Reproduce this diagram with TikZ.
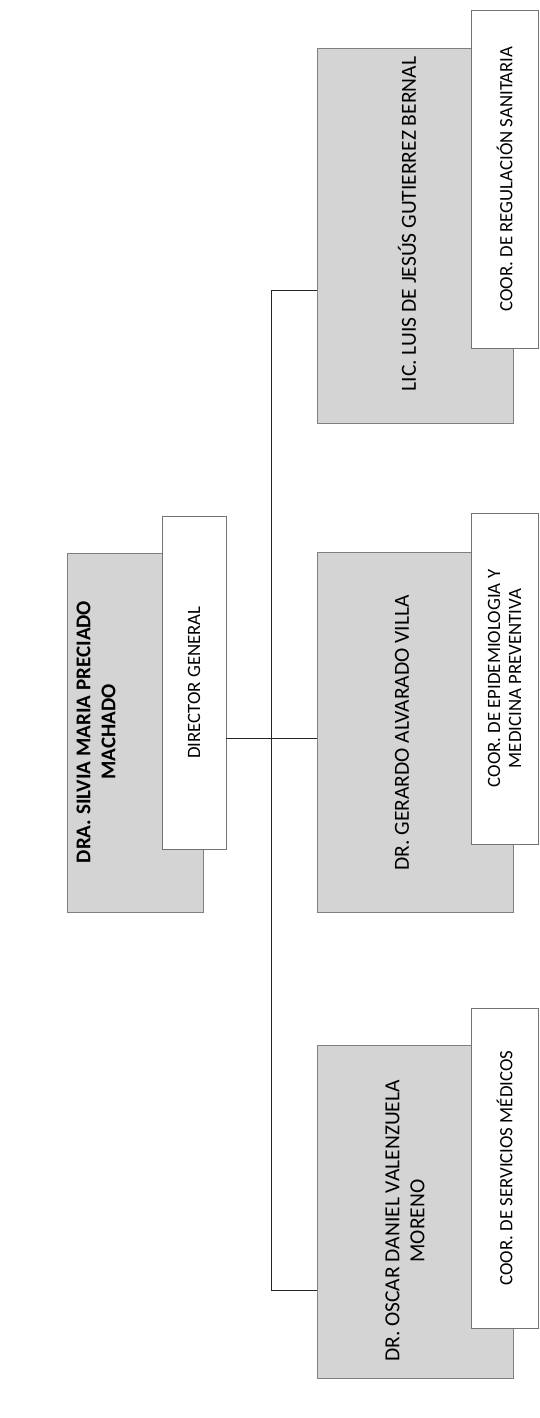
\documentclass[tikz,border=0pt]{standalone}
\usepackage{fontspec}
\setmainfont{Carlito}
\begin{document}
\begin{tikzpicture}[x=1pt,y=-1pt,
  graybox/.style={draw=black!50, line width=0.6pt, fill=black!17, rotate=90, inner sep=0pt},
  whitebox/.style={draw=black!55, line width=0.6pt, fill=white, rotate=90, inner sep=0pt, align=center, font=\fontsize{18.8}{21}\selectfont},
  nametext/.style={rotate=90, align=center, inner sep=0pt, font=\fontsize{21.5}{25}\selectfont},
  bossname/.style={rotate=90, align=center, inner sep=0pt, font=\bfseries\fontsize{21}{25}\selectfont},
  conn/.style={draw=black!85, line width=1pt}]
\useasboundingbox[fill=white] (0,0) rectangle (540,1418);
% director
\node[graybox, minimum width=359pt, minimum height=136pt] (dirg) at (135,732.5) {};
\node[whitebox, minimum width=333pt, minimum height=64pt] (dirw) at (194,682.5) {DIRECTOR GENERAL};
\node[bossname] (dirn) at (96,732) {DRA. SILVIA MARIA PRECIADO\\MACHADO};
% Luis
\node[graybox, minimum width=375pt, minimum height=196pt] (g1) at (415,235.5) {};
\node[whitebox, minimum width=338pt, minimum height=67pt] (w1) at (504.5,179) {COOR. DE REGULACIÓN SANITARIA};
\node[nametext] (n1) at (407,224) {LIC. LUIS DE JESÚS GUTIERREZ BERNAL};
% Gerardo
\node[graybox, minimum width=360pt, minimum height=196pt] (g2) at (415,732) {};
\node[whitebox, minimum width=331pt, minimum height=67pt] (w2) at (504.5,678.5) {COOR. DE EPIDEMIOLOGIA Y\\MEDICINA PREVENTIVA};
\node[nametext] (n2) at (402,733) {DR. GERARDO ALVARADO VILLA};
% Oscar
\node[graybox, minimum width=333pt, minimum height=196pt] (g3) at (415,1211.5) {};
\node[whitebox, minimum width=320pt, minimum height=67pt] (w3) at (504.5,1168) {COOR. DE SERVICIOS MÉDICOS};
\node[nametext] (n3) at (405,1221) {DR. OSCAR DANIEL VALENZUELA\\MORENO};
% connectors
\coordinate (bt) at (271,290);
\coordinate (bm) at (271,738);
\coordinate (bb) at (271,1290);
\draw[conn] (bt) -- (bb);
\draw[conn] (dirw.south |- bm) -- (g2.north |- bm);
\draw[conn] (bt) -- (g1.north |- bt);
\draw[conn] (bb) -- (g3.north |- bb);
\end{tikzpicture}
\end{document}
